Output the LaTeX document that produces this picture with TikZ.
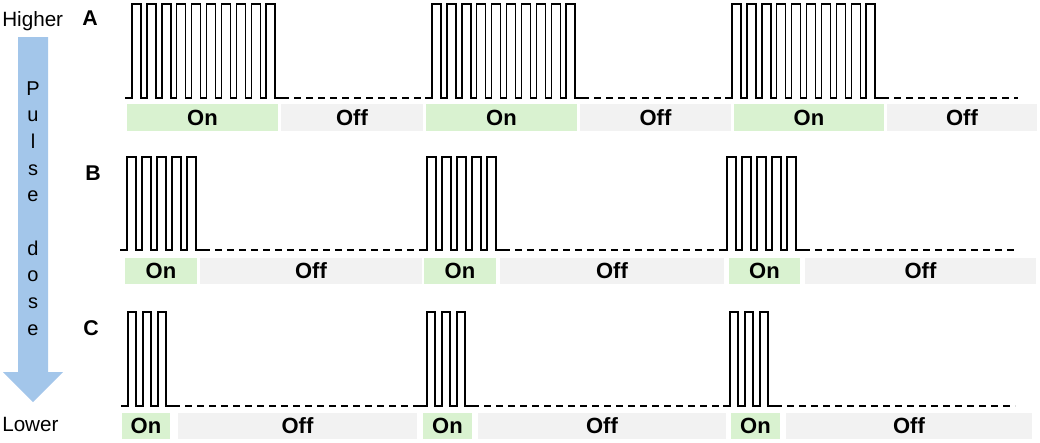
\documentclass[tikz,border=0pt]{standalone}
\usepackage{fontspec}
\setmainfont{Liberation Sans}
\definecolor{ongreen}{HTML}{D9F2D0}
\definecolor{offgray}{HTML}{F2F2F2}
\definecolor{arrowblue}{HTML}{A3C6EA}
\tikzset{
  seg/.style={inner sep=0pt, outer sep=0pt, font=\fontsize{16.5}{19}\selectfont\bfseries, text=black},
  onbox/.style={seg, fill=ongreen},
  offbox/.style={seg, fill=offgray},
  wave/.style={line width=1.05pt, line join=miter},
  gapline/.style={line width=1.1pt, dash pattern=on 5pt off 4pt},
  lbl/.style={font=\fontsize{15.5}{18}\selectfont, inner sep=0pt, anchor=base west},
  rowlbl/.style={font=\fontsize{16}{19}\selectfont\bfseries, inner sep=0pt, anchor=base west},
  vtext/.style={font=\fontsize{15}{20}\selectfont, inner sep=0pt, align=center, anchor=north},
}
\newcommand\segbox[7]{\node[#1, minimum width={(#4-#3)*0.75pt}, minimum height={(#6-#5)*0.75pt}] (#2) at ({(#3+#4)/2},{(#5+#6)/2}) {#7};}
\newcommand\pulsetrain[7]{%
  \coordinate (#7s) at ({#1-7},#5);
  \coordinate (#7e) at ({#1+(#2-1)*#3+#4+7},#5);
  \draw[wave] (#7s) \foreach \i in {1,...,#2} { -- ({#1+(\i-1)*#3},#5) -- ({#1+(\i-1)*#3},#6) -- ({#1+(\i-1)*#3+#4},#6) -- ({#1+(\i-1)*#3+#4},#5) } -- (#7e);
}
\begin{document}
\begin{tikzpicture}[x=0.75pt, y=-0.75pt]
\useasboundingbox (0,0) rectangle (1040,443);
% arrow
\fill[arrowblue] (18,37) -- (48,37) -- (48,372) -- (63,372) -- (33,402) -- (3,372) -- (18,372) -- cycle;
\node[vtext] (dose) at (33,81) {P\\u\\l\\s\\e\\[20pt]d\\o\\s\\e};
\node[lbl] (higher) at (2,26) {Higher};
\node[lbl] (lower) at (2,431) {Lower};
\node[rowlbl] (labA) at (82,25) {A};
\node[rowlbl] (labB) at (85,180) {B};
\node[rowlbl] (labC) at (83,335) {C};
% Row A
\pulsetrain{132}{10}{14.9}{9}{98}{4}{a1}
\pulsetrain{432}{10}{14.9}{9}{98}{4}{a2}
\pulsetrain{732}{10}{14.9}{9}{98}{4}{a3}
\coordinate (aend) at (1018,98);
\draw[gapline] (a1e) -- (a2s) (a2e) -- (a3s) (a3e) -- (aend);
\segbox{onbox}{aon1}{127}{278}{104}{131}{On}
\segbox{offbox}{aoff1}{281}{423}{104}{131}{Off}
\segbox{onbox}{aon2}{426}{577}{104}{131}{On}
\segbox{offbox}{aoff2}{580}{731}{104}{131}{Off}
\segbox{onbox}{aon3}{734}{884}{104}{131}{On}
\segbox{offbox}{aoff3}{887}{1037}{104}{131}{Off}
% Row B
\pulsetrain{127}{5}{15}{9}{250}{157}{b1}
\pulsetrain{427}{5}{15}{9}{250}{157}{b2}
\pulsetrain{727}{5}{15}{9}{250}{157}{b3}
\coordinate (bend) at (1015,250);
\draw[gapline] (b1e) -- (b2s) (b2e) -- (b3s) (b3e) -- (bend);
\segbox{onbox}{bon1}{125}{197}{258}{284}{On}
\segbox{offbox}{boff1}{200}{422}{258}{284}{Off}
\segbox{onbox}{bon2}{424}{496}{258}{284}{On}
\segbox{offbox}{boff2}{500}{724}{258}{284}{Off}
\segbox{onbox}{bon3}{729}{800}{258}{284}{On}
\segbox{offbox}{boff3}{805}{1036}{258}{284}{Off}
% Row C
\pulsetrain{128}{3}{15}{8}{406}{312}{c1}
\pulsetrain{427}{3}{15}{8}{406}{312}{c2}
\pulsetrain{730}{3}{15}{8}{406}{312}{c3}
\coordinate (cend) at (1015,406);
\draw[gapline] (c1e) -- (c2s) (c2e) -- (c3s) (c3e) -- (cend);
\segbox{onbox}{con1}{122}{170}{413}{439}{On}
\segbox{offbox}{coff1}{178}{417}{413}{439}{Off}
\segbox{onbox}{con2}{423}{472}{413}{439}{On}
\segbox{offbox}{coff2}{478}{726}{413}{439}{Off}
\segbox{onbox}{con3}{731}{780}{413}{439}{On}
\segbox{offbox}{coff3}{786}{1032}{413}{439}{Off}
\end{tikzpicture}
\end{document}
